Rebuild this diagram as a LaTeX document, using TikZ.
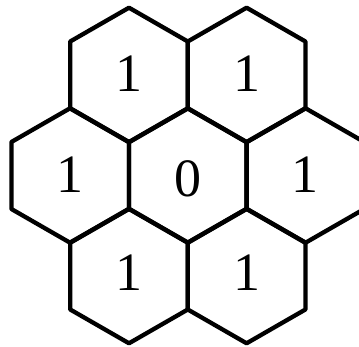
\documentclass[tikz,border=0pt]{standalone}
\usepackage{fontspec}
\setmainfont{Liberation Serif}
\begin{document}
\begin{tikzpicture}[x=1pt,y=-1pt,
  hexline/.style={line width=4.3pt, line join=round},
  lbl/.style={font=\fontsize{54}{54}\selectfont, inner sep=0pt}]
\useasboundingbox (0,0) rectangle (359,347);
\clip (0,0) rectangle (359,347);
\foreach \cx/\cy/\dy/\t/\n in {187.8/175.5/3/0/c, 129/75/-1/1/tl, 246.6/75/-1/1/tr, 70.2/175.5/-1/1/l, 305.4/175.5/-1/1/r, 129/276/-3/1/bl, 246.6/276/-3/1/br} {
  \draw[hexline] (\cx,\cy-67.3) -- (\cx+58.8,\cy-33.5) -- (\cx+58.8,\cy+33.5) -- (\cx,\cy+67.3) -- (\cx-58.8,\cy+33.5) -- (\cx-58.8,\cy-33.5) -- cycle;
  \node[lbl] (\n) at (\cx,\cy+\dy) {\t};
}
\end{tikzpicture}
\end{document}
